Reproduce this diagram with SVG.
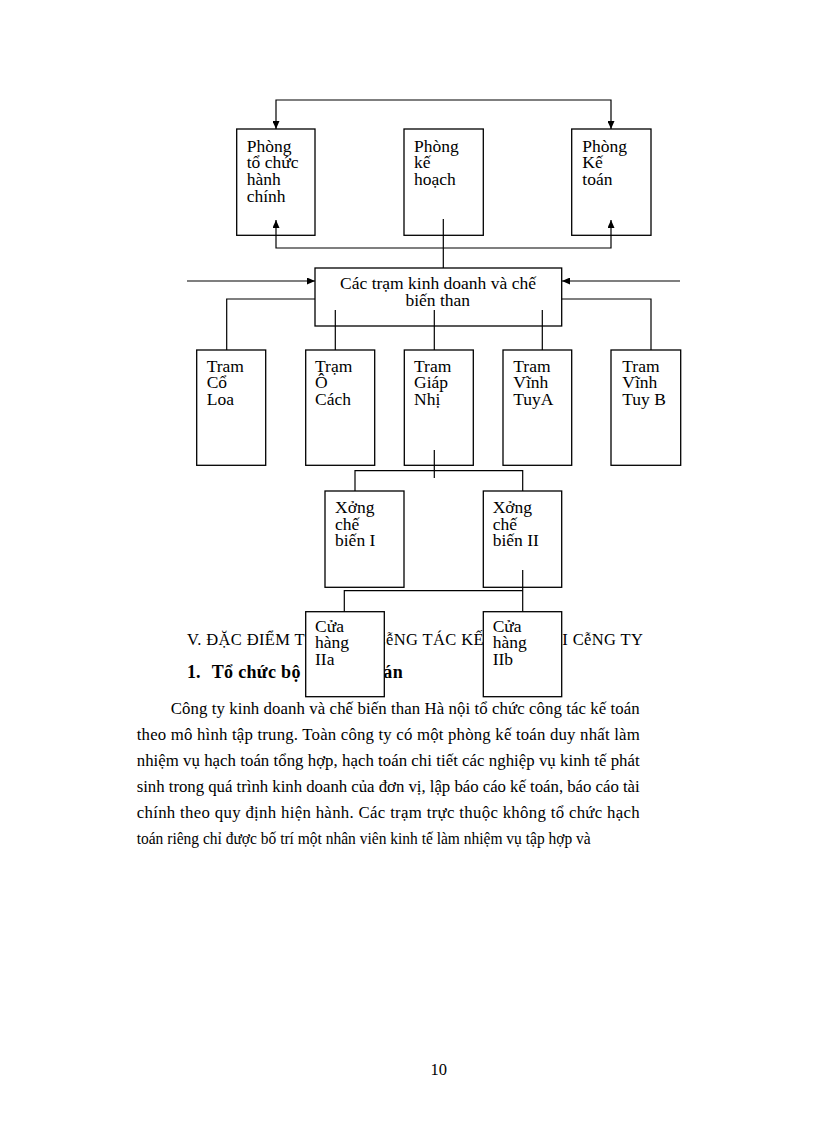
<svg xmlns="http://www.w3.org/2000/svg" width="816" height="1123" viewBox="0 0 816 1123">
<style>
.box{fill:#fff;stroke:#000;stroke-width:1.3}
.ln{fill:none;stroke:#000;stroke-width:1.2}
.t{font-family:"Liberation Serif","Times New Roman",serif;font-size:17.5px;fill:#000}
.p{font-family:"Liberation Serif","Times New Roman",serif;font-size:16.8px;fill:#000}
.h{font-family:"Liberation Serif","Times New Roman",serif;font-size:16.5px;fill:#000}
.hb{font-family:"Liberation Serif","Times New Roman",serif;font-size:18px;font-weight:bold;fill:#000}
</style>
<defs>
<marker id="ar" markerUnits="userSpaceOnUse" markerWidth="9" markerHeight="7" refX="8" refY="3.5" orient="auto-start-reverse">
<path d="M0,0 L8,3.5 L0,7 z" fill="#000"/>
</marker>
</defs>
<rect width="816" height="1123" fill="#fff"/>
<g id="page-text">
<text class="h" x="187" y="645" textLength="456" lengthAdjust="spacing">V. ĐẶC ĐIỂM TỔ CHỨC CễNG TÁC KẾ TOÁN TẠI CễNG TY</text>
<text class="hb" x="187" y="678">1.</text>
<text class="hb" x="211.7" y="678" textLength="191" lengthAdjust="spacing">Tổ chức bộ máy kế toán</text>
<text class="p" x="170.7" y="714" textLength="469" lengthAdjust="spacing">Công ty kinh doanh và chế biến than Hà nội tổ chức công tác kế toán</text>
<text class="p" x="136.7" y="740" textLength="503" lengthAdjust="spacing">theo mô hình tập trung.  Toàn công ty có một phòng kế toán duy nhất làm</text>
<text class="p" x="136.7" y="766" textLength="503" lengthAdjust="spacing">nhiệm vụ hạch toán tổng hợp, hạch toán chi tiết các nghiệp vụ kinh tế phát</text>
<text class="p" x="136.7" y="792" textLength="503" lengthAdjust="spacing">sinh trong quá trình kinh doanh của đơn vị, lập báo cáo kế toán, báo cáo tài</text>
<text class="p" x="136.7" y="818" textLength="503" lengthAdjust="spacing">chính theo quy định hiện hành. Các trạm trực thuộc không tổ chức hạch</text>
<text class="p" x="136.7" y="844" textLength="454" lengthAdjust="spacingAndGlyphs">toán riêng chỉ được bố trí một nhân viên kinh tế làm nhiệm vụ tập hợp và</text>
<text class="h" x="438.7" y="1075" text-anchor="middle" font-size="16">10</text>
</g>
<g id="phong-to-chuc">
<rect class="box" x="236.7" y="129" width="78.3" height="106.3"/>
<text class="t" x="246.7" y="151.7">Phòng<tspan x="246.7" y="168.4">tổ chức</tspan><tspan x="246.7" y="185.1">hành</tspan><tspan x="246.7" y="201.8">chính</tspan></text>
</g>
<g id="phong-ke-hoach">
<rect class="box" x="404" y="129" width="79.3" height="106.3"/>
<text class="t" x="414" y="151.7">Phòng<tspan x="414" y="168.4">kế</tspan><tspan x="414" y="185.1">hoạch</tspan></text>
</g>
<g id="phong-ke-toan">
<rect class="box" x="571.7" y="129" width="79.3" height="106.3"/>
<text class="t" x="582.3" y="151.7">Phòng<tspan x="582.3" y="168.4">Kế</tspan><tspan x="582.3" y="185.1">toán</tspan></text>
</g>
<g id="cac-tram">
<rect class="box" x="315" y="268" width="246.7" height="58"/>
<text class="t" x="438" y="289.3" text-anchor="middle">Các trạm kinh doanh và chế</text>
<text class="t" x="437.7" y="306" text-anchor="middle">biến than</text>
</g>
<g id="tram-co-loa">
<rect class="box" x="196.7" y="350" width="69" height="115.3"/>
<text class="t" x="206.7" y="371.7">Tram<tspan x="206.7" y="388.4">Cổ</tspan><tspan x="206.7" y="405.1">Loa</tspan></text>
</g>
<g id="tram-o-cach">
<rect class="box" x="305.7" y="350" width="69" height="115.3"/>
<text class="t" x="315" y="371.7">Trạm<tspan x="315" y="388.4">Ô</tspan><tspan x="315" y="405.1">Cách</tspan></text>
</g>
<g id="tram-giap-nhi">
<rect class="box" x="404.3" y="350" width="69" height="115.3"/>
<text class="t" x="414" y="371.7">Tram<tspan x="414" y="388.4">Giáp</tspan><tspan x="414" y="405.1">Nhị</tspan></text>
</g>
<g id="tram-vinh-tuy-a">
<rect class="box" x="503" y="350" width="68.7" height="115.3"/>
<text class="t" x="513.3" y="371.7">Tram<tspan x="513.3" y="388.4">Vĩnh</tspan><tspan x="513.3" y="405.1">TuyA</tspan></text>
</g>
<g id="tram-vinh-tuy-b">
<rect class="box" x="611" y="350" width="69.7" height="115.3"/>
<text class="t" x="622.3" y="371.7">Tram<tspan x="622.3" y="388.4">Vĩnh</tspan><tspan x="622.3" y="405.1">Tuy B</tspan></text>
</g>
<g id="xuong-1">
<rect class="box" x="325" y="491" width="79" height="96.3"/>
<text class="t" x="335" y="513">Xởng<tspan x="335" y="529.7">chế</tspan><tspan x="335" y="546.4">biến I</tspan></text>
</g>
<g id="xuong-2">
<rect class="box" x="483.3" y="491" width="78.4" height="96.3"/>
<text class="t" x="492.7" y="513">Xởng<tspan x="492.7" y="529.7">chế</tspan><tspan x="492.7" y="546.4">biến II</tspan></text>
</g>
<g id="cua-hang-2a">
<rect class="box" x="305.7" y="611.7" width="78.6" height="85"/>
<text class="t" x="315" y="631.7">Cửa<tspan x="315" y="648.4">hàng</tspan><tspan x="315" y="665.1">IIa</tspan></text>
</g>
<g id="cua-hang-2b">
<rect class="box" x="483.3" y="611.7" width="78.4" height="85"/>
<text class="t" x="492.7" y="631.7">Cửa<tspan x="492.7" y="648.4">hàng</tspan><tspan x="492.7" y="665.1">IIb</tspan></text>
</g>
<g id="connectors">
<path class="ln" d="M276,129 V100 H611 V129" marker-start="url(#ar)" marker-end="url(#ar)"/>
<path class="ln" d="M276,220 V248 H611 V220" marker-start="url(#ar)" marker-end="url(#ar)"/>
<path class="ln" d="M443.3,219 V268"/>
<path class="ln" d="M187,281 H315" marker-end="url(#ar)"/>
<path class="ln" d="M680,281 H562" marker-end="url(#ar)"/>
<path class="ln" d="M315,299 H226.7 V350"/>
<path class="ln" d="M562,299 H651 V350"/>
<path class="ln" d="M335.3,310 V350"/>
<path class="ln" d="M434.3,310 V350"/>
<path class="ln" d="M542.3,310 V350"/>
<path class="ln" d="M434.3,450 V478"/>
<path class="ln" d="M355,491 V470.7 H522.7 V491"/>
<path class="ln" d="M522.7,570 V611.7"/>
<path class="ln" d="M344.3,611.7 V590.7 H522.7"/>
</g>
</svg>
